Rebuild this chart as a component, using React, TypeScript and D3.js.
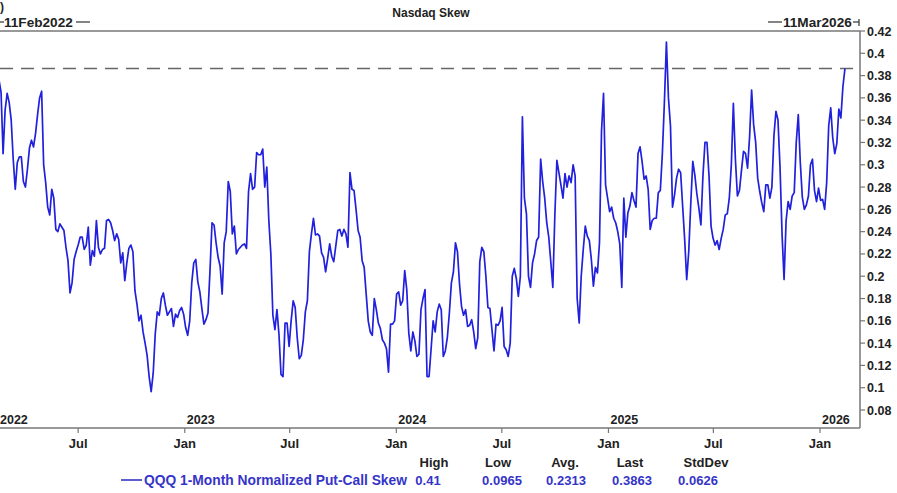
import React, { useMemo } from 'react';
import * as d3 from 'd3';

// half-weekly readings of QQQ 1M normalized put-call skew, starting 11 Feb 2022
const START_DATE = '2022-02-11';
const END_DATE = '2026-03-11';
const STEP_DAYS = 3.5;

const skew = [
  0.376, 0.376, 0.365, 0.31, 0.349, 0.364, 0.356, 0.34, 0.305, 0.278,
  0.302, 0.307, 0.307, 0.285, 0.28, 0.296, 0.315, 0.322, 0.316, 0.328,
  0.345, 0.36, 0.366, 0.3, 0.284, 0.262, 0.255, 0.278, 0.27, 0.242,
  0.24, 0.247, 0.244, 0.241, 0.226, 0.214, 0.185, 0.194, 0.215, 0.222,
  0.228, 0.235, 0.235, 0.224, 0.228, 0.244, 0.21, 0.223, 0.218, 0.25,
  0.226, 0.22, 0.224, 0.225, 0.25, 0.251, 0.248, 0.241, 0.232, 0.238,
  0.233, 0.212, 0.221, 0.196, 0.212, 0.225, 0.228, 0.222, 0.187, 0.175,
  0.16, 0.165, 0.15, 0.14, 0.129, 0.11, 0.0965, 0.113, 0.148, 0.168,
  0.165, 0.18, 0.185, 0.174, 0.165, 0.168, 0.171, 0.155, 0.166, 0.163,
  0.169, 0.172, 0.166, 0.154, 0.147, 0.16, 0.194, 0.212, 0.215, 0.195,
  0.186, 0.171, 0.157, 0.161, 0.167, 0.205, 0.248, 0.246, 0.23, 0.217,
  0.209, 0.184, 0.23, 0.24, 0.285, 0.276, 0.238, 0.245, 0.22, 0.224,
  0.226, 0.228, 0.229, 0.225, 0.276, 0.292, 0.278, 0.28, 0.311, 0.309,
  0.309, 0.314, 0.28, 0.298, 0.25, 0.22, 0.165, 0.152, 0.17, 0.148,
  0.112, 0.11, 0.158, 0.158, 0.137, 0.16, 0.178, 0.172, 0.145, 0.126,
  0.129, 0.143, 0.168, 0.178, 0.222, 0.238, 0.252, 0.237, 0.238, 0.236,
  0.221, 0.217, 0.204, 0.216, 0.229, 0.218, 0.213, 0.227, 0.241, 0.242,
  0.236, 0.242, 0.238, 0.226, 0.293, 0.278, 0.277, 0.26, 0.241, 0.235,
  0.214, 0.208, 0.184, 0.16, 0.15, 0.147, 0.18, 0.17, 0.158, 0.153,
  0.143, 0.14, 0.135, 0.114, 0.157, 0.157, 0.16, 0.184, 0.186, 0.174,
  0.178, 0.205, 0.188, 0.149, 0.133, 0.15, 0.142, 0.128, 0.13, 0.17,
  0.18, 0.188, 0.11, 0.11, 0.135, 0.16, 0.15, 0.168, 0.175, 0.17,
  0.128, 0.133, 0.145, 0.167, 0.194, 0.204, 0.23, 0.222, 0.193, 0.173,
  0.165, 0.17, 0.155, 0.156, 0.161, 0.15, 0.135, 0.145, 0.213, 0.226,
  0.222, 0.2, 0.172, 0.171, 0.152, 0.133, 0.157, 0.156, 0.16, 0.172,
  0.137, 0.134, 0.128, 0.14, 0.2, 0.207, 0.198, 0.182, 0.2, 0.343,
  0.27, 0.256, 0.2, 0.19, 0.212, 0.22, 0.232, 0.235, 0.305, 0.285,
  0.27, 0.248, 0.235, 0.213, 0.19, 0.255, 0.304, 0.293, 0.282, 0.27,
  0.292, 0.28, 0.29, 0.284, 0.3, 0.29, 0.18, 0.158, 0.2, 0.224,
  0.245, 0.236, 0.232, 0.215, 0.191, 0.208, 0.203, 0.23, 0.33, 0.364,
  0.282, 0.27, 0.258, 0.262, 0.252, 0.248, 0.24, 0.229, 0.19, 0.27,
  0.235, 0.257, 0.263, 0.275, 0.268, 0.262, 0.31, 0.316, 0.303, 0.287,
  0.29, 0.278, 0.242, 0.25, 0.252, 0.252, 0.275, 0.277, 0.31, 0.356,
  0.41, 0.36, 0.335, 0.262, 0.273, 0.288, 0.296, 0.293, 0.263, 0.233,
  0.197, 0.222, 0.265, 0.303, 0.291, 0.274, 0.261, 0.246, 0.29, 0.32,
  0.32, 0.29, 0.245, 0.234, 0.228, 0.232, 0.224, 0.234, 0.242, 0.255,
  0.256, 0.27, 0.3, 0.355, 0.305, 0.272, 0.277, 0.295, 0.312, 0.31,
  0.297, 0.325, 0.367, 0.336, 0.32, 0.288, 0.276, 0.266, 0.258, 0.282,
  0.282, 0.27, 0.28, 0.326, 0.348, 0.34, 0.298, 0.238, 0.197, 0.25,
  0.267, 0.26, 0.272, 0.275, 0.32, 0.345, 0.302, 0.271, 0.26, 0.264,
  0.272, 0.3, 0.305, 0.277, 0.267, 0.279, 0.268, 0.269, 0.26, 0.284,
  0.335, 0.351, 0.324, 0.31, 0.319, 0.35, 0.342, 0.37, 0.3863,
];

const yTicks = [0.08, 0.1, 0.12, 0.14, 0.16, 0.18, 0.2, 0.22, 0.24, 0.26, 0.28, 0.3, 0.32, 0.34, 0.36, 0.38, 0.4, 0.42];
const monthTicks = ['2022-07-01', '2023-01-01', '2023-07-01', '2024-01-01', '2024-07-01', '2025-01-01', '2025-07-01', '2026-01-01'];
const monthLabels = ['Jul', 'Jan', 'Jul', 'Jan', 'Jul', 'Jan', 'Jul', 'Jan'];
const yearStarts = ['2022-01-01', '2023-01-01', '2024-01-01', '2025-01-01', '2026-01-01'];
const yearLabels = ['2022', '2023', '2024', '2025', '2026'];

const seriesName = 'QQQ 1-Month Normalized Put-Call Skew';
const statHeads = ['High', 'Low', 'Avg.', 'Last', 'StdDev'];
const statValues = ['0.41', '0.0965', '0.2313', '0.3863', '0.0626'];
const lastValue = 0.3863;

const W = 897;
const H = 493;
const FONT = '"Liberation Sans", Arial, sans-serif';
const BLUE = '#2020dd';
const LEGEND_BLUE = '#3535c8';

export default function App() {
  const left = -3;
  const right = 860;
  const top = 31;
  const bottom = 428;

  const x = useMemo(
    () => d3.scaleTime().domain([new Date(START_DATE), new Date(END_DATE)]).range([left, right]),
    []
  );
  const y = useMemo(() => d3.scaleLinear().domain([0.08, 0.42]).range([410, top]), []);

  const points = skew.map((v, i) => ({
    date: new Date(new Date(START_DATE).getTime() + i * STEP_DAYS * 86400000),
    value: v,
  }));

  const line = d3
    .line<{ date: Date; value: number }>()
    .x((d) => x(d.date))
    .y((d) => y(d.value));

  const headX = [434, 498, 565, 630, 706];
  const valueX = [428, 502, 566, 632, 698];

  return (
    <svg
      width={W}
      height={H}
      style={{ position: 'absolute', left: 0, top: 0, background: '#fff' }}
      fontFamily={FONT}
    >
      <text x={0} y={11} fontSize={12} fontWeight="bold" fill="#222">)</text>
      <text x={431} y={17} textAnchor="middle" fontSize={12} fontWeight="bold" fill="#222">
        Nasdaq Skew
      </text>

      {/* date range labels */}
      <line x1={0} x2={4} y1={22} y2={22} stroke="#333" strokeWidth={1.2} />
      <text x={4} y={27} fontSize={13.6} fontWeight="bold" fill="#222">11Feb2022</text>
      <line x1={76} x2={90} y1={22} y2={22} stroke="#333" strokeWidth={1.2} />
      <line x1={768} x2={782} y1={22} y2={22} stroke="#333" strokeWidth={1.2} />
      <text x={783} y={27} fontSize={13.6} fontWeight="bold" fill="#222">11Mar2026</text>
      <line x1={853} x2={859} y1={22} y2={22} stroke="#333" strokeWidth={1.2} />
      <line x1={859} x2={859} y1={19} y2={26} stroke="#333" strokeWidth={1.2} />

      {/* frame */}
      <line x1={0} x2={right} y1={top} y2={top} stroke="#777" strokeWidth={1.5} />
      <line x1={0} x2={right} y1={bottom} y2={bottom} stroke="#777" strokeWidth={1.5} />
      <line x1={right} x2={right} y1={top} y2={bottom} stroke="#777" strokeWidth={1.5} />

      {/* y axis on right */}
      {yTicks.map((t) => (
        <g key={t}>
          <line x1={right} x2={right + 5} y1={y(t)} y2={y(t)} stroke="#777" strokeWidth={1.2} />
          <text x={right + 7} y={y(t) + 4.5} fontSize={12.5} fontWeight="bold" fill="#222">
            {String(t)}
          </text>
        </g>
      ))}

      {/* x axis */}
      {monthTicks.map((m, i) => (
        <g key={m}>
          <line x1={x(new Date(m))} x2={x(new Date(m))} y1={bottom} y2={bottom + 5} stroke="#777" strokeWidth={1.2} />
          <text x={x(new Date(m))} y={448} textAnchor="middle" fontSize={13} fontWeight="bold" fill="#222">
            {monthLabels[i]}
          </text>
        </g>
      ))}
      {yearStarts.map((s, i) => (
        <text key={s} x={Math.max(0, x(new Date(s)) + 2)} y={424} fontSize={12.5} fontWeight="bold" fill="#222">
          {yearLabels[i]}
        </text>
      ))}

      {/* last value reference */}
      <line
        x1={0}
        x2={right}
        y1={y(lastValue)}
        y2={y(lastValue)}
        stroke="#666"
        strokeWidth={1.5}
        strokeDasharray="13 8"
      />

      <path d={line(points) ?? ''} fill="none" stroke={BLUE} strokeWidth={1.7} strokeLinejoin="round" />

      {/* legend */}
      <line x1={121} x2={142} y1={480} y2={480} stroke={LEGEND_BLUE} strokeWidth={1.6} />
      <text x={144} y={485} fontSize={13.8} fontWeight="bold" fill={LEGEND_BLUE}>{seriesName}</text>
      {statHeads.map((h, i) => (
        <text key={h} x={headX[i]} y={467} textAnchor="middle" fontSize={13} fontWeight="bold" fill="#222">
          {h}
        </text>
      ))}
      {statValues.map((v, i) => (
        <text key={i} x={valueX[i]} y={485} textAnchor="middle" fontSize={13} fontWeight="bold" fill={LEGEND_BLUE}>
          {v}
        </text>
      ))}
    </svg>
  );
}
